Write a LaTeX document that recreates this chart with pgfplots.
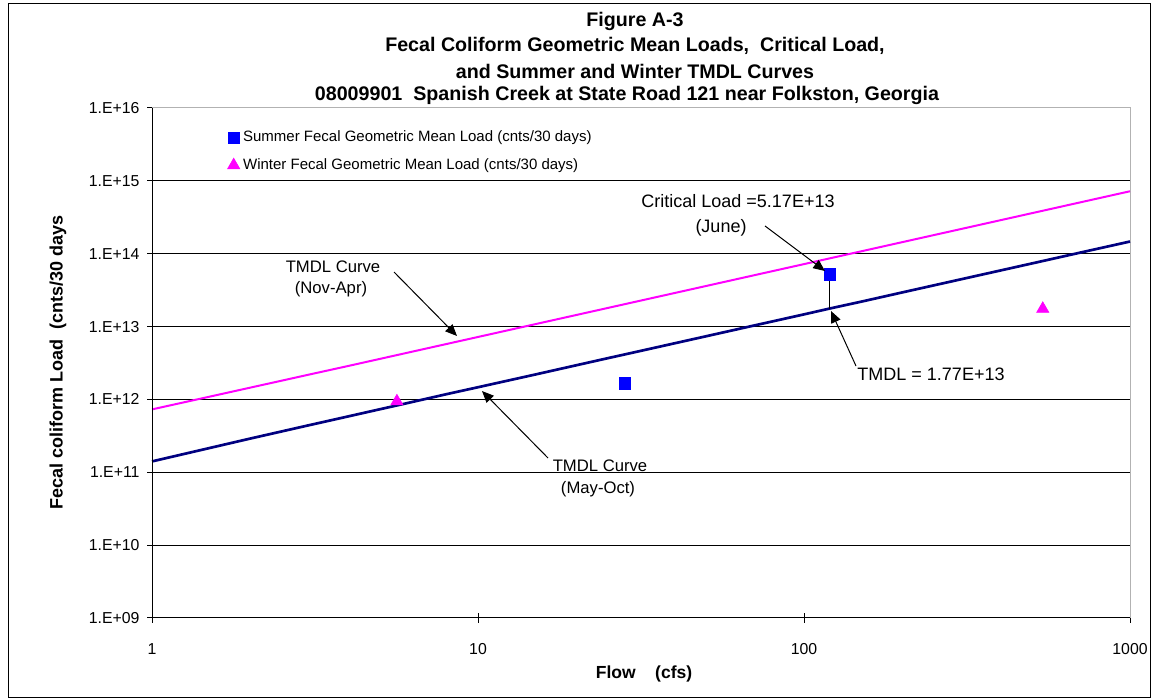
\documentclass[border=0pt]{standalone}
\usepackage{pgfplots}
\pgfplotsset{compat=1.18}
\usepackage{fontspec}
\setmainfont{Liberation Sans}
\usetikzlibrary{arrows.meta}
\definecolor{navyc}{RGB}{0,0,128}
\definecolor{magc}{RGB}{255,0,255}
\definecolor{bluec}{RGB}{0,0,255}
\begin{document}
\begin{tikzpicture}
\useasboundingbox (0,0) rectangle (693.6pt,-420pt);
\begin{axis}[
  at={(91.2pt,-370.8pt)}, anchor=south west, scale only axis,
  width=586.8pt, height=306pt,
  xmode=log, ymode=log, xmin=1, xmax=1000, ymin=1e9, ymax=1e16,
  xtick={1,10,100,1000}, xticklabels={1,10,100,1000},
  ytick={1e9,1e10,1e11,1e12,1e13,1e14,1e15,1e16},
  yticklabels={1.E+09,1.E+10,1.E+11,1.E+12,1.E+13,1.E+14,1.E+15,1.E+16},
  xminorticks=false, yminorticks=false,
  ymajorgrids, grid style={black, line width=0.6pt},
  axis line style={gray!60, line width=0.6pt},
  tick style={black, line width=0.6pt}, major tick length=6pt, tick align=center,
  tick pos=left,
  ticklabel style={font=\fontsize{9.5}{10}\selectfont},
  xticklabel style={yshift=-9pt},
  yticklabel style={xshift=-1pt},
  legend style={draw=none, fill=none, at={(0.077,0.962)}, anchor=north west,
    font=\fontsize{9}{10}\selectfont, row sep=4.5pt, inner sep=0pt},
  legend cell align=left,
  clip=false,
]
\addplot[only marks, mark=square*, mark size=3.5pt, color=bluec] coordinates {(120,5.17e13) (28.2,1.65e12)};
\addlegendentry{Summer Fecal Geometric Mean Load (cnts/30 days)}
\addplot[only marks, mark=triangle*, mark size=4.2pt, color=magc] coordinates {(5.64,9.4e11) (540,1.75e13)};
\addlegendentry{Winter Fecal Geometric Mean Load (cnts/30 days)}
\addplot[forget plot, color=navyc, line width=1.6pt] coordinates {
(1,1.41e11) (1.5,2.15e11) (2,2.9e11) (3,4.38e11) (4,5.85e11) (5,7.33e11) (6,8.8e11) (8,1.18e12) (10,1.47e12) (15,2.2e12) (20,2.94e12) (25,3.68e12) (30,4.41e12) (40,5.88e12) (50,7.35e12) (70,1.03e13) (100,1.47e13) (120,1.77e13) (150,2.2e13) (200,2.94e13) (300,4.41e13) (500,7.35e13) (700,1.03e14) (1000,1.47e14)};
\addplot[forget plot, color=magc, line width=1.2pt] coordinates {
(1,7.3e11) (1.5,1.09e12) (2,1.45e12) (3,2.17e12) (4,2.88e12) (5,3.6e12) (6,4.32e12) (8,5.76e12) (10,7.2e12) (15,1.08e13) (20,1.44e13) (25,1.8e13) (30,2.16e13) (40,2.88e13) (50,3.6e13) (70,5.04e13) (100,7.2e13) (150,1.08e14) (200,1.44e14) (300,2.16e14) (500,3.6e14) (700,5.04e14) (1000,7.2e14)};
\draw[black, line width=0.6pt] (rel axis cs:0,1) -- (rel axis cs:0,0) -- (rel axis cs:1,0);
\draw[black, line width=0.6pt] (axis cs:120,5.17e13) -- (axis cs:120,1.77e13);
\end{axis}
\begin{scope}[x=0.6pt, y=-0.6pt]
\draw[black, line width=0.6pt] (8,4) rectangle (1150,697);
\begin{scope}[font=\bfseries\fontsize{11.8}{14}\selectfont]
\node at (635,21) {Figure A-3};
\node at (635,46) {Fecal Coliform Geometric Mean Loads,\ \ Critical Load,};
\node at (635,71) {and Summer and Winter TMDL Curves};
\node at (627,95) {08009901\ \ Spanish Creek at State Road 121 near Folkston, Georgia};
\end{scope}
\node[font=\bfseries\fontsize{10.5}{12}\selectfont] at (644,674) {Flow\ \ \ \ (cfs)};
\node[font=\bfseries\fontsize{10.8}{12}\selectfont, rotate=90, anchor=west] at (58,515) {Fecal coliform Load\ \ (cnts/30 days};
\begin{scope}[font=\fontsize{10.8}{12}\selectfont]
\node at (738,201) {Critical Load =5.17E+13};
\node at (721,228) {(June)};
\node at (931,374) {TMDL =\ 1.77E+13};
\end{scope}
\begin{scope}[font=\fontsize{10}{12}\selectfont]
\node at (333,267) {TMDL Curve};
\node at (331,289) {(Nov-Apr)};
\node at (600,466) {TMDL Curve};
\node at (598,489) {(May-Oct)};
\end{scope}
\begin{scope}[line width=0.6pt, -{Triangle[length=7pt,width=6pt]}]
\draw (765,226) -- (825,271);
\draw (856,366) -- (831,311);
\draw (394,272) -- (457,336);
\draw (548,458) -- (482,391);
\end{scope}
\end{scope}
\end{tikzpicture}
\end{document}
